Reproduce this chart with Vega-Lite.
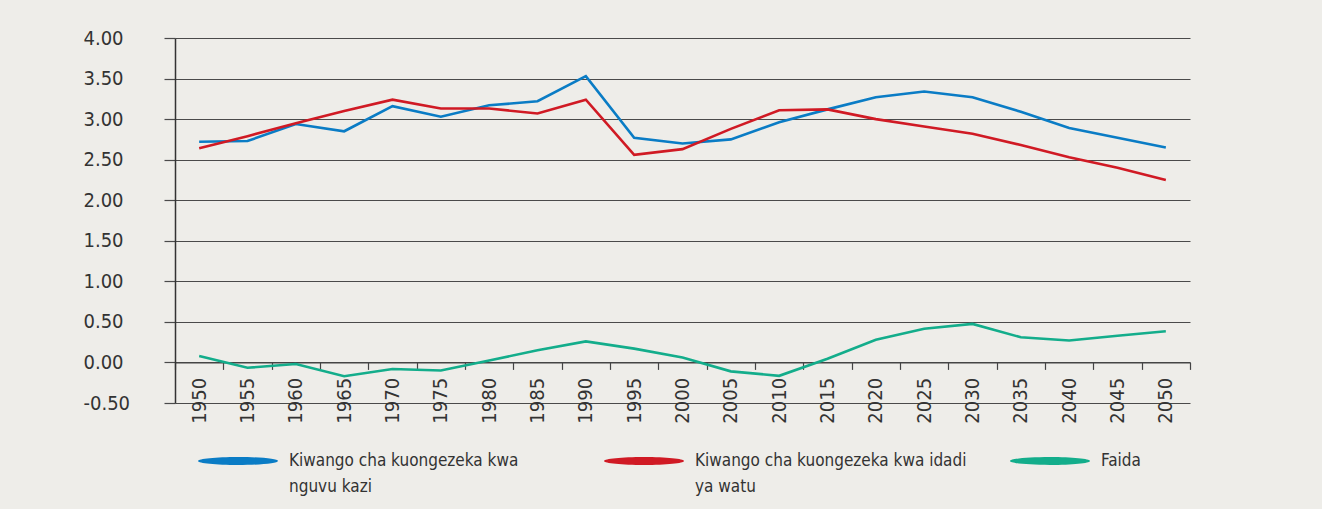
{
  "$schema": "https://vega.github.io/schema/vega-lite/v6.json",
  "width": 1015,
  "height": 365,
  "autosize": {"type": "none"},
  "padding": {"left": 175, "top": 38, "right": 132, "bottom": 106},
  "background": "#eeede9",
  "config": {
    "view": {"stroke": null},
    "font": "DejaVu Sans Condensed, Liberation Sans Narrow, Roboto, sans-serif"
  },
  "data": {
    "values": [
      {"year": 1950, "series": "Kiwango cha kuongezeka kwa nguvu kazi", "value": 2.72},
      {"year": 1955, "series": "Kiwango cha kuongezeka kwa nguvu kazi", "value": 2.73},
      {"year": 1960, "series": "Kiwango cha kuongezeka kwa nguvu kazi", "value": 2.94},
      {"year": 1965, "series": "Kiwango cha kuongezeka kwa nguvu kazi", "value": 2.85},
      {"year": 1970, "series": "Kiwango cha kuongezeka kwa nguvu kazi", "value": 3.16},
      {"year": 1975, "series": "Kiwango cha kuongezeka kwa nguvu kazi", "value": 3.03},
      {"year": 1980, "series": "Kiwango cha kuongezeka kwa nguvu kazi", "value": 3.17},
      {"year": 1985, "series": "Kiwango cha kuongezeka kwa nguvu kazi", "value": 3.22},
      {"year": 1990, "series": "Kiwango cha kuongezeka kwa nguvu kazi", "value": 3.53},
      {"year": 1995, "series": "Kiwango cha kuongezeka kwa nguvu kazi", "value": 2.77},
      {"year": 2000, "series": "Kiwango cha kuongezeka kwa nguvu kazi", "value": 2.70},
      {"year": 2005, "series": "Kiwango cha kuongezeka kwa nguvu kazi", "value": 2.75},
      {"year": 2010, "series": "Kiwango cha kuongezeka kwa nguvu kazi", "value": 2.96},
      {"year": 2015, "series": "Kiwango cha kuongezeka kwa nguvu kazi", "value": 3.12},
      {"year": 2020, "series": "Kiwango cha kuongezeka kwa nguvu kazi", "value": 3.27},
      {"year": 2025, "series": "Kiwango cha kuongezeka kwa nguvu kazi", "value": 3.34},
      {"year": 2030, "series": "Kiwango cha kuongezeka kwa nguvu kazi", "value": 3.27},
      {"year": 2035, "series": "Kiwango cha kuongezeka kwa nguvu kazi", "value": 3.09},
      {"year": 2040, "series": "Kiwango cha kuongezeka kwa nguvu kazi", "value": 2.89},
      {"year": 2045, "series": "Kiwango cha kuongezeka kwa nguvu kazi", "value": 2.77},
      {"year": 2050, "series": "Kiwango cha kuongezeka kwa nguvu kazi", "value": 2.65},
      {"year": 1950, "series": "Kiwango cha kuongezeka kwa idadi ya watu", "value": 2.64},
      {"year": 1955, "series": "Kiwango cha kuongezeka kwa idadi ya watu", "value": 2.79},
      {"year": 1960, "series": "Kiwango cha kuongezeka kwa idadi ya watu", "value": 2.95},
      {"year": 1965, "series": "Kiwango cha kuongezeka kwa idadi ya watu", "value": 3.10},
      {"year": 1970, "series": "Kiwango cha kuongezeka kwa idadi ya watu", "value": 3.24},
      {"year": 1975, "series": "Kiwango cha kuongezeka kwa idadi ya watu", "value": 3.13},
      {"year": 1980, "series": "Kiwango cha kuongezeka kwa idadi ya watu", "value": 3.13},
      {"year": 1985, "series": "Kiwango cha kuongezeka kwa idadi ya watu", "value": 3.07},
      {"year": 1990, "series": "Kiwango cha kuongezeka kwa idadi ya watu", "value": 3.24},
      {"year": 1995, "series": "Kiwango cha kuongezeka kwa idadi ya watu", "value": 2.56},
      {"year": 2000, "series": "Kiwango cha kuongezeka kwa idadi ya watu", "value": 2.63},
      {"year": 2005, "series": "Kiwango cha kuongezeka kwa idadi ya watu", "value": 2.88},
      {"year": 2010, "series": "Kiwango cha kuongezeka kwa idadi ya watu", "value": 3.11},
      {"year": 2015, "series": "Kiwango cha kuongezeka kwa idadi ya watu", "value": 3.12},
      {"year": 2020, "series": "Kiwango cha kuongezeka kwa idadi ya watu", "value": 3.00},
      {"year": 2025, "series": "Kiwango cha kuongezeka kwa idadi ya watu", "value": 2.91},
      {"year": 2030, "series": "Kiwango cha kuongezeka kwa idadi ya watu", "value": 2.82},
      {"year": 2035, "series": "Kiwango cha kuongezeka kwa idadi ya watu", "value": 2.68},
      {"year": 2040, "series": "Kiwango cha kuongezeka kwa idadi ya watu", "value": 2.53},
      {"year": 2045, "series": "Kiwango cha kuongezeka kwa idadi ya watu", "value": 2.40},
      {"year": 2050, "series": "Kiwango cha kuongezeka kwa idadi ya watu", "value": 2.25},
      {"year": 1950, "series": "Faida", "value": 0.08},
      {"year": 1955, "series": "Faida", "value": -0.065},
      {"year": 1960, "series": "Faida", "value": -0.02},
      {"year": 1965, "series": "Faida", "value": -0.17},
      {"year": 1970, "series": "Faida", "value": -0.08},
      {"year": 1975, "series": "Faida", "value": -0.10},
      {"year": 1980, "series": "Faida", "value": 0.025},
      {"year": 1985, "series": "Faida", "value": 0.15},
      {"year": 1990, "series": "Faida", "value": 0.26},
      {"year": 1995, "series": "Faida", "value": 0.17},
      {"year": 2000, "series": "Faida", "value": 0.06},
      {"year": 2005, "series": "Faida", "value": -0.11},
      {"year": 2010, "series": "Faida", "value": -0.165},
      {"year": 2015, "series": "Faida", "value": 0.045},
      {"year": 2020, "series": "Faida", "value": 0.28},
      {"year": 2025, "series": "Faida", "value": 0.415},
      {"year": 2030, "series": "Faida", "value": 0.475},
      {"year": 2035, "series": "Faida", "value": 0.31},
      {"year": 2040, "series": "Faida", "value": 0.27},
      {"year": 2045, "series": "Faida", "value": 0.33},
      {"year": 2050, "series": "Faida", "value": 0.385}
    ]
  },
  "mark": {"type": "line", "strokeWidth": 2.6},
  "encoding": {
    "x": {
      "field": "year",
      "type": "ordinal",
      "scale": {"type": "band", "paddingInner": 0, "paddingOuter": 0},
      "axis": {
        "title": null,
        "orient": "bottom",
        "offset": -40.6,
        "tickBand": "extent",
        "tickSize": 7,
        "tickColor": "#444444",
        "tickWidth": 1.2,
        "domainColor": "#444444",
        "domainWidth": 1.2,
        "labelAngle": 270,
        "labelAlign": "right",
        "labelBaseline": "middle",
        "labelPadding": 8,
        "labelFontSize": 20,
        "labelColor": "#333333",
        "grid": false
      }
    },
    "y": {
      "field": "value",
      "type": "quantitative",
      "scale": {"domain": [-0.5, 4], "nice": false, "zero": false},
      "axis": {
        "title": null,
        "values": [-0.5, 0, 0.5, 1, 1.5, 2, 2.5, 3, 3.5, 4],
        "labelExpr": "datum.value < 0 ? '-' + format(-datum.value, '.2f') : format(datum.value, '.2f')",
        "labelAlign": "left",
        "labelBaseline": "middle",
        "labelPadding": 81,
        "labelFontSize": 20,
        "labelColor": "#333333",
        "tickSize": 11,
        "tickColor": "#4a4a4a",
        "tickWidth": 1.2,
        "grid": true,
        "gridColor": "#4a4a4a",
        "gridWidth": 1.2,
        "domainColor": "#333333",
        "domainWidth": 1.5
      }
    },
    "color": {
      "field": "series",
      "type": "nominal",
      "scale": {
        "domain": ["Kiwango cha kuongezeka kwa nguvu kazi", "Kiwango cha kuongezeka kwa idadi ya watu", "Faida"],
        "range": ["#0a7cc5", "#d01a24", "#13ad8b"]
      },
      "legend": {
        "title": null,
        "orient": "none",
        "legendX": 23,
        "legendY": 383,
        "direction": "horizontal",
        "columns": 3,
        "gridAlign": "all",
        "padding": 0,
        "columnPadding": 43,
        "symbolType": "M -1 0 A 1 0.1 0 1 0 1 0 A 1 0.1 0 1 0 -1 0 Z",
        "symbolSize": 6400,
        "symbolStrokeWidth": 0,
        "labelFontSize": 17,
        "labelColor": "#333333",
        "labelOffset": 11,
        "labelLimit": 400,
        "labelBaseline": "middle",
        "labelExpr": "datum.label == 'Kiwango cha kuongezeka kwa nguvu kazi' ? ['Kiwango cha kuongezeka kwa', 'nguvu kazi'] : datum.label == 'Kiwango cha kuongezeka kwa idadi ya watu' ? ['Kiwango cha kuongezeka kwa idadi', 'ya watu'] : [datum.label, '']",
        "encode": {
          "symbols": {"update": {"fill": {"scale": "color", "field": "value"}, "stroke": {"value": "transparent"}, "strokeWidth": {"value": 0}}},
          "labels": {"update": {"lineHeight": {"value": 26}}}
        }
      }
    }
  }
}
